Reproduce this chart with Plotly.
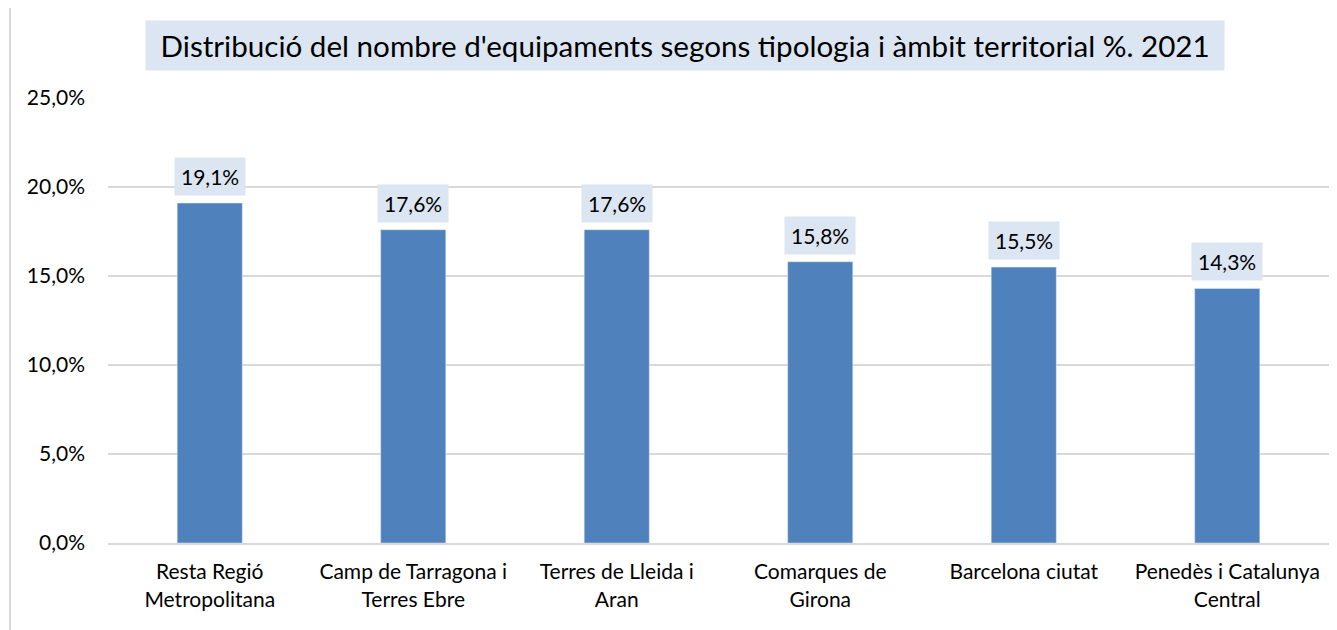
import plotly.graph_objects as go

categories = ["Resta Regió<br>Metropolitana", "Camp de Tarragona i<br>Terres Ebre", "Terres de Lleida i<br>Aran",
              "Comarques de<br>Girona", "Barcelona ciutat", "Penedès i Catalunya<br>Central"]
values = [19.1, 17.6, 17.6, 15.8, 15.5, 14.3]
tick_vals = [0, 5, 10, 15, 20, 25]
tick_text = ["0,0%", "5,0%", "10,0%", "15,0%", "20,0%", "25,0%"]
title_text = "Distribució del nombre d'equipaments segons tipologia i àmbit territorial %. 2021"

FONT = "Lato"
BAR = "#4F81BD"
LBL_BG = "#DCE6F2"

fig = go.Figure(go.Bar(x=categories, y=values, marker_color=BAR, width=0.32, hoverinfo="skip"))

def fmt(v):
    return f"{v:.1f}".replace(".", ",") + "%"

annotations = []
for c, v in zip(categories, values):
    annotations.append(dict(x=c, y=v, text=fmt(v), showarrow=False, yanchor="bottom", yshift=7,
                            bgcolor=LBL_BG, borderpad=6, font=dict(family=FONT, size=21, color="#000000")))

annotations.append(dict(xref="paper", yref="paper", x=0.4722, y=1.1169,
                        text="\u00a0" + title_text + "\u00a0", showarrow=False,
                        xanchor="center", yanchor="middle", bgcolor=LBL_BG, borderpad=7,
                        font=dict(family=FONT, size=29.6, color="#000000")))

shapes = [
    dict(type="line", xref="paper", yref="paper", x0=-0.0803, x1=-0.0803, y0=1.2067, y1=-0.3, line=dict(color="#D9D9D9", width=2)),
    dict(type="line", xref="paper", yref="paper", x0=-0.0803, x1=1.05, y0=1.2067, y1=1.2067, line=dict(color="#D9D9D9", width=2)),
]

fig.update_layout(
    width=1329, height=622,
    margin=dict(l=100, r=8, t=90, b=87),
    paper_bgcolor="white", plot_bgcolor="white",
    showlegend=False,
    font=dict(family=FONT, size=21, color="#000000"),
    annotations=annotations, shapes=shapes,
    xaxis=dict(showgrid=False, showline=True, linecolor="#D9D9D9", linewidth=2, ticks="",
               tickfont=dict(family=FONT, size=21), ticklabelstandoff=9),
    yaxis=dict(range=[0, 25], tickvals=tick_vals, ticktext=tick_text, showgrid=True,
               gridcolor="#D9D9D9", gridwidth=2, zeroline=False, showline=False,
               tickfont=dict(family=FONT, size=21), ticklabelstandoff=22),
)

fig.write_html("out.html")
